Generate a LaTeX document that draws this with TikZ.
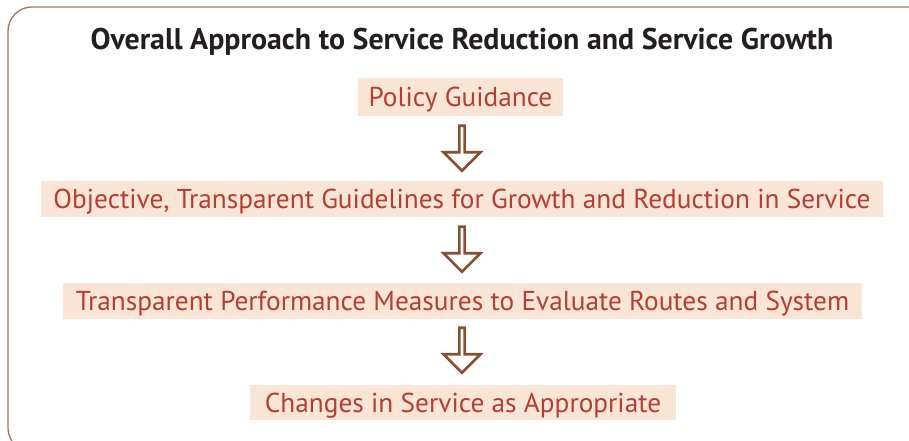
\documentclass[tikz,border=0pt]{standalone}
\usepackage{fontspec}
\setmainfont{PT Sans}
\usepackage{xcolor}
\usetikzlibrary{shapes.arrows}

\definecolor{framebrown}{RGB}{165,115,95}
\definecolor{steptext}{RGB}{180,62,50}
\definecolor{stepfill}{RGB}{249,229,213}
\definecolor{arrowbrown}{RGB}{135,80,50}
\definecolor{titleink}{RGB}{35,31,32}

\begin{document}
\begin{tikzpicture}[x=1pt,y=-1pt,
  stepbox/.style={fill=stepfill,text=steptext,inner sep=0pt,text height=19pt,text depth=0pt,
    font=\fontsize{27.3}{30}\selectfont},
  downarrow/.style={single arrow,draw=arrowbrown,line width=2.6pt,fill=white,
    shape border rotate=270,minimum height=45pt,minimum width=37pt,
    single arrow head extend=8pt,single arrow tip angle=90,inner sep=0pt}]
\path[use as bounding box] (0,0) rectangle (909,441);
\clip (0,0) rectangle (909,441);

% outer frame, only the left part shows
\draw[framebrown,line width=1.3pt,rounded corners=24pt] (8,7) rectangle (940,452);

% heading
\node[text=titleink,font=\fontsize{29.9}{34}\selectfont\bfseries,text height=20pt,text depth=0pt]
  (title) at (462,40) {Overall Approach to Service Reduction and Service Growth};

% the four steps
\node[stepbox,minimum width=205pt,minimum height=38pt] (policy) at (460.5,97)
  {Policy Guidance};
\node[stepbox,minimum width=842pt,minimum height=36pt] (guide) at (462,199)
  {Objective, Transparent Guidelines for Growth and Reduction in Service};
\node[stepbox,minimum width=799pt,minimum height=36pt] (measure) at (462.5,301)
  {Transparent Performance Measures to Evaluate Routes and System};
\node[stepbox,minimum width=426pt,minimum height=35pt] (change) at (463,402.5)
  {Changes in Service as Appropriate};

% hollow arrows between the steps
\node[downarrow] (a1) at (462,147) {};
\node[downarrow] (a2) at (462,248) {};
\node[downarrow] (a3) at (462,349) {};
\end{tikzpicture}
\end{document}
